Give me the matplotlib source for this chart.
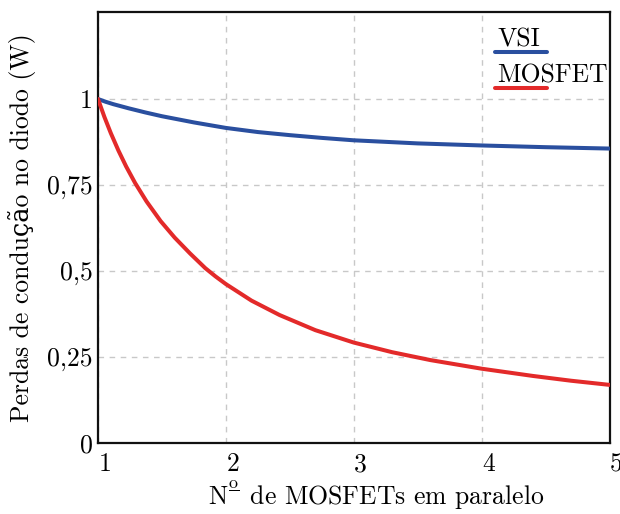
import matplotlib
matplotlib.use("Agg")
import matplotlib.pyplot as plt
import matplotlib.transforms as mtransforms
from matplotlib.lines import Line2D
from matplotlib.mathtext import MathTextParser

plt.rcParams['font.family'] = ['cmr10', 'DejaVu Serif']
plt.rcParams['mathtext.fontset'] = 'cm'
plt.rcParams['axes.formatter.use_mathtext'] = True

# Data
x_vsi = [1.0, 1.06, 1.12, 1.24, 1.37, 1.5, 1.75, 2.0, 2.25, 2.5, 2.75, 3.0, 3.5, 4.0, 4.5, 5.0]
y_vsi = [1.0, 0.992, 0.985, 0.973, 0.961, 0.950, 0.932, 0.916, 0.904, 0.895, 0.887, 0.880,
         0.871, 0.865, 0.860, 0.856]

x_mos = [1.0, 1.05, 1.1, 1.16, 1.22, 1.29, 1.38, 1.49, 1.6, 1.72, 1.84, 1.92, 2.0, 2.2, 2.42,
         2.7, 3.0, 3.3, 3.6, 4.0, 4.4, 4.7, 5.0]
y_mos = [1.0, 0.948, 0.901, 0.850, 0.804, 0.756, 0.702, 0.645, 0.597, 0.551, 0.508, 0.484, 0.462,
         0.414, 0.372, 0.328, 0.292, 0.264, 0.241, 0.216, 0.195, 0.181, 0.169]

xticks = [1, 2, 3, 4, 5]
xticklabels = ['1', '2', '3', '4', '5']
yticks = [0, 0.25, 0.5, 0.75, 1]
yticklabels = ['0', '0,25', '0,5', '0,75', '1']

blue = '#2a4f9f'
red = '#e32a2a'
FS = 18.5

# choose a label form for "Nº" that mathtext accepts
xlabel_rest = ' de MOSFETs em paralelo'
candidates = [r'N$^{\genfrac{}{}{0.6}{0}{\mathrm{o}}{\,}}$',
              r'N$^{\genfrac{}{}{0.6}{}{\mathrm{o}}{\,}}$',
              'Nº']
xlabel_txt = 'Nº' + xlabel_rest
_p = MathTextParser('path')
for c in candidates:
    if '$' not in c:
        xlabel_txt = c + xlabel_rest
        break
    try:
        _p.parse(c[c.index('$'):], dpi=100)
        xlabel_txt = c + xlabel_rest
        break
    except Exception:
        continue

fig = plt.figure(figsize=(6.2, 5.14), dpi=100)
ax = fig.add_axes([98/620, 1-443/514, 511.5/620, 431/514])

ax.plot(x_vsi, y_vsi, color=blue, lw=2.9, solid_capstyle='round', solid_joinstyle='round', zorder=3)
ax.plot(x_mos, y_mos, color=red, lw=2.9, solid_capstyle='round', solid_joinstyle='round', zorder=3)

ax.set_xlim(1, 5)
ax.set_ylim(0, 1.253)
ax.set_xticks(xticks)
ax.set_xticklabels(xticklabels)
ax.set_yticks(yticks)
ax.set_yticklabels(yticklabels)
ax.tick_params(length=0, labelsize=FS, pad=4)
ax.tick_params(axis='x', pad=7)
off = mtransforms.ScaledTranslation(7/100, 0, fig.dpi_scale_trans)
for lab in ax.get_xticklabels():
    lab.set_transform(lab.get_transform() + off)

ax.grid(True, color='#c8c8c8', ls=(0, (4, 4)), lw=1.0)
for s in ax.spines.values():
    s.set_linewidth(1.6)
    s.set_color('#111111')

ax.set_xlabel(xlabel_txt, fontsize=FS, labelpad=1.5)
ax.xaxis.label.set_x(0.5 + 22/511.5)
ax.set_ylabel('Perdas de condução no diodo (W)', fontsize=FS, labelpad=8)

# legend: label with colored underline
ax.text(0.780, 0.919, 'VSI', transform=ax.transAxes, fontsize=FS, va='baseline', ha='left', zorder=5)
ax.add_line(Line2D([0.776, 0.878], [0.907, 0.907], transform=ax.transAxes, color=blue, lw=2.9, solid_capstyle='round'))
ax.text(0.780, 0.837, 'MOSFET', transform=ax.transAxes, fontsize=FS, va='baseline', ha='left', zorder=5)
ax.add_line(Line2D([0.776, 0.878], [0.824, 0.824], transform=ax.transAxes, color=red, lw=2.9, solid_capstyle='round'))

fig.savefig('out.png', dpi=100)
